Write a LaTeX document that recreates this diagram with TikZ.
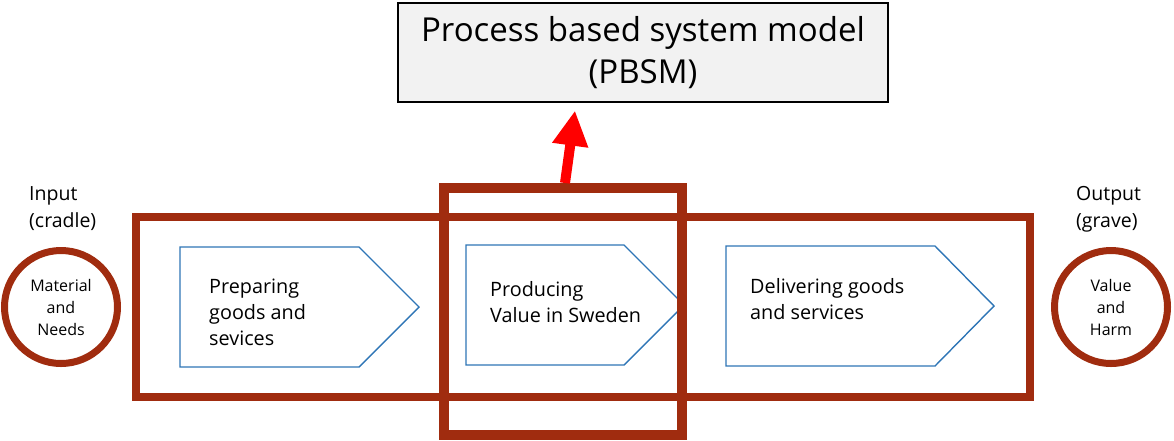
\documentclass[tikz,border=0pt]{standalone}
\usepackage{fontspec}
\setmainfont{Open Sans}
\usetikzlibrary{arrows.meta}
\definecolor{rust}{RGB}{160,44,15}
\definecolor{stepblue}{RGB}{46,117,182}
\definecolor{boxgray}{RGB}{242,242,242}
\tikzset{
  frame/.style={draw=rust, line width=#1, rectangle, inner sep=0pt},
  ring/.style={draw=rust, line width=7pt, circle, inner sep=0pt, minimum size=113pt,
    align=center, font=\fontsize{16}{22}\selectfont},
  sidelabel/.style={anchor=west, align=left, inner sep=0pt, font=\fontsize{19.5}{27}\selectfont},
  stage/.style={draw=stepblue, line width=1.4pt, line join=miter},
  stagetext/.style={anchor=west, align=left, inner sep=0pt, font=\fontsize{19.8}{26}\selectfont},
  uparrow/.style={draw=red, line width=10pt, -{Triangle[length=35pt,width=34pt]}}
}
\begin{document}
\begin{tikzpicture}[x=1pt,y=-1pt]
  \useasboundingbox (0,0) rectangle (1174,440);

  % model box
  \node[draw=black, fill=boxgray, line width=1.2pt, minimum width=490pt, minimum height=99pt,
        align=center, font=\fontsize{33}{42}\selectfont] (pbsm) at (643,52.5)
        {Process based system model\\(PBSM)};

  % outer chain frame
  \node[frame=8pt, minimum width=894pt, minimum height=180pt] (chain) at (583,307) {};

  % stages
  \draw[stage] (180,247) -- (359,247) -- (419,307) -- (359,367) -- (180,367) -- cycle;
  \node[stagetext] (prep) at (209,312) {Preparing\\goods and\\sevices};

  \draw[stage] (466,245) -- (624,245) -- (684,305) -- (624,365) -- (466,365) -- cycle;
  \node[stagetext] (prod) at (490,302.5) {Producing\\Value in Sweden};

  \draw[stage] (726,246) -- (935,246) -- (994,306) -- (935,366) -- (726,366) -- cycle;
  \node[stagetext] (deliv) at (750,299.5) {Delivering goods\\and services};

  % focus frame around production
  \node[frame=10pt, minimum width=238.5pt, minimum height=246.5pt] (focus) at (563,311.25) {};

  % input and output
  \node[ring] (input) at (61,307) {Material\\and\\Needs};
  \node[ring] (output) at (1111,307) {Value\\and\\Harm};
  \node[sidelabel] (inlabel) at (29,209) {Input\\(cradle)};
  \node[sidelabel] (outlabel) at (1076,209) {Output\\(grave)};

  % link to the model
  \draw[uparrow] ([xshift=2pt]focus.north) -- ([xshift=-68pt,yshift=-8pt]pbsm.south);
\end{tikzpicture}
\end{document}
